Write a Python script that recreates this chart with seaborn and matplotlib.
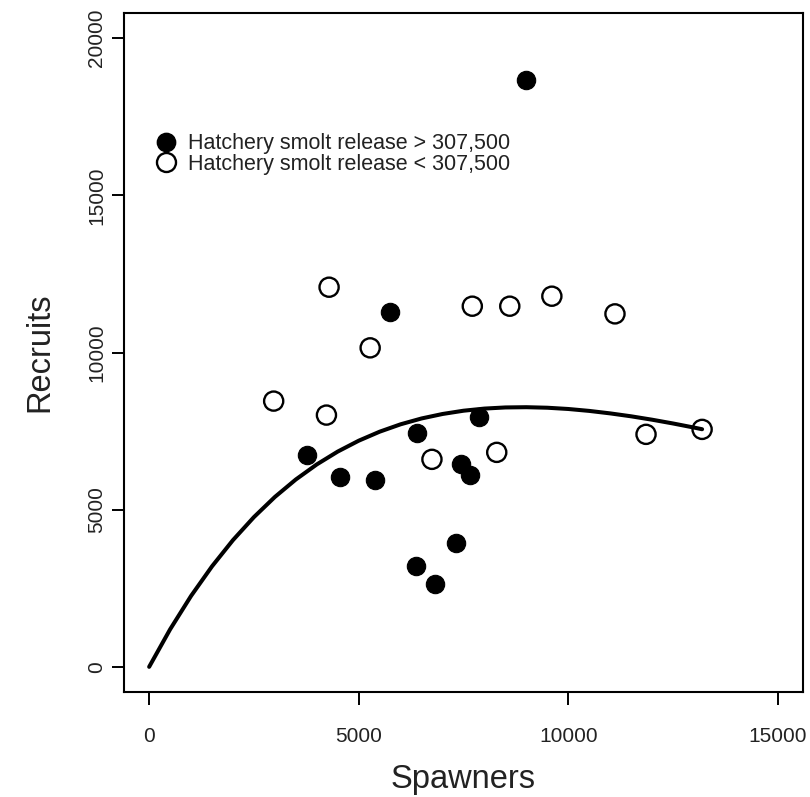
import pandas as pd
import matplotlib
matplotlib.use("Agg")
import matplotlib.pyplot as plt
import seaborn as sns
from matplotlib.lines import Line2D

# Datos: reclutas vs reproductores
spawners_high = [5743, 7863, 6396, 3767, 4565, 5378, 7433, 7648, 7328, 6372, 6812, 8987]
recruits_high = [11282, 7945, 7447, 6737, 6038, 5933, 6461, 6093, 3931, 3200, 2628, 18678]

spawners_low = [4293, 7710, 8604, 5273, 2971, 4230, 6747, 8293, 9608, 11114, 11855, 13193]
recruits_low = [12077, 11473, 11473, 10148, 8454, 8009, 6601, 6823, 11791, 11229, 7396, 7554]

# Curva ajustada (valores leidos a lo largo de la linea)
curve_spawners = [0, 500, 1000, 1500, 2000, 2500, 3000, 3500, 4000, 4500, 5000, 5500,
                  6000, 6500, 7000, 7500, 8000, 8500, 9000, 9500, 10000, 10500, 11000,
                  11500, 12000, 12500, 13000, 13193]
curve_recruits = [0, 1193, 2256, 3198, 4032, 4764, 5405, 5961, 6440, 6849, 7194, 7481,
                  7716, 7902, 8044, 8148, 8216, 8252, 8260, 8243, 8203, 8142, 8063,
                  7970, 7862, 7742, 7612, 7559]

labels = ["Hatchery smolt release > 307,500", "Hatchery smolt release < 307,500"]

df_high = pd.DataFrame({"Spawners": spawners_high, "Recruits": recruits_high})
df_low = pd.DataFrame({"Spawners": spawners_low, "Recruits": recruits_low})
df_curve = pd.DataFrame({"Spawners": curve_spawners, "Recruits": curve_recruits})

sns.set_theme(style="white")
plt.rcParams["font.family"] = ["Liberation Sans", "DejaVu Sans"]

fig = plt.figure(figsize=(8.10, 7.97), dpi=100)
ax = fig.add_axes([124 / 810, 1 - 692 / 797, (803 - 124) / 810, (692 - 13) / 797])

sns.lineplot(data=df_curve, x="Spawners", y="Recruits", color="black", linewidth=2.9,
             estimator=None, sort=False, ax=ax)
sns.scatterplot(data=df_high, x="Spawners", y="Recruits", color="black",
                edgecolor="black", linewidth=0.8, s=175, ax=ax, zorder=3)
sns.scatterplot(data=df_low, x="Spawners", y="Recruits", facecolor="none",
                edgecolor="black", linewidth=1.7, s=190, ax=ax, zorder=3)

ax.set_xlim(-600, 15600)
ax.set_ylim(-800, 20800)
ax.set_xticks([0, 5000, 10000, 15000])
ax.set_yticks([0, 5000, 10000, 15000, 20000])
ax.tick_params(axis="both", direction="out", length=9, width=1.4, color="black",
               labelsize=15, labelcolor="#222222", bottom=True, left=True)
ax.tick_params(axis="x", pad=16)
ax.tick_params(axis="y", pad=4)
plt.setp(ax.get_yticklabels(), rotation=90, va="center")
for sp in ax.spines.values():
    sp.set_visible(True)
    sp.set_color("black")
    sp.set_linewidth(1.5)

ax.set_xlabel("Spawners", fontsize=23.5, labelpad=13, color="#222222")
ax.set_ylabel("Recruits", fontsize=23.5, labelpad=23, color="#222222")

handles = [
    Line2D([], [], marker="o", linestyle="none", markerfacecolor="black",
           markeredgecolor="black", markersize=13.2),
    Line2D([], [], marker="o", linestyle="none", markerfacecolor="none",
           markeredgecolor="black", markeredgewidth=1.7, markersize=13.7),
]
ax.legend(handles, labels, loc="center left", frameon=False, fontsize=15.5,
          bbox_to_anchor=(155 / 810, 1 - 154 / 797), bbox_transform=fig.transFigure,
          borderpad=0, borderaxespad=0, handlelength=1.0, handletextpad=0.55,
          labelspacing=-0.03, labelcolor="#222222")

fig.savefig("out.png", dpi=100)
